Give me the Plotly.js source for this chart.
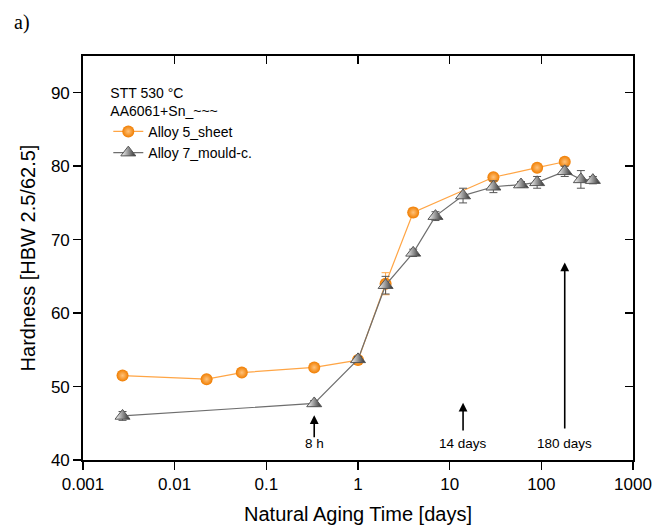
<!DOCTYPE html>
<html>
<head>
<meta charset="utf-8">
<script src="https://cdn.plot.ly/plotly-3.0.1.min.js"></script>
<style>html,body{margin:0;padding:0;background:#fff;}#chart{width:654px;height:530px;}</style>
</head>
<body>
<div id="chart"></div>
<script>
// Alloy 5_sheet (orange spheres)
const sheetDays = [0.0027, 0.0223, 0.054, 0.333, 1, 2, 4, 30, 90, 180];
const sheetHB   = [51.5, 51.0, 51.9, 52.6, 53.6, 64.0, 73.7, 78.5, 79.8, 80.6];
const sheetErr  = [0.3, 0.3, 0.3, 0.3, 0.3, 1.5, 0.6, 0.3, 0.3, 0.3];
// Alloy 7_mould-c. (grey triangles)
const mouldDays = [0.0027, 0.333, 1, 2, 4, 7, 14, 30, 60, 90, 180, 270, 365];
const mouldHB   = [46.0, 47.7, 53.7, 63.8, 68.2, 73.2, 76.0, 77.2, 77.5, 77.8, 79.3, 78.2, 78.1];
const mouldErr  = [0.6, 0.4, 0.4, 1.2, 0.5, 0.6, 1.0, 0.8, 0.4, 0.8, 0.7, 1.2, 0.5];
// axis ticks
const xTickVals = [0.001, 0.01, 0.1, 1, 10, 100, 1000];
const xTickText = ['0.001', '0.01', '0.1', '1', '10', '100', '1000'];
const yTickVals = [40, 50, 60, 70, 80, 90];
// arrow markers: label, day, tip hardness, tail hardness
const arrowLabels = ['8 h', '14 days', '180 days'];
const arrowDays   = [0.333, 14, 180];
const arrowTip    = [46.1, 47.8, 66.9];
const arrowTail   = [42.9, 43.8, 44.1];

const FONT = 'Liberation Sans, Arial, sans-serif';

const traces = [
  {
    x: sheetDays, y: sheetHB, name: 'Alloy 5_sheet', type: 'scatter', mode: 'lines+markers',
    line: {color: '#ffa545', width: 1.2},
    marker: {symbol: 'circle', size: 12, color: '#f07d00', line: {width: 0},
             gradient: {type: 'radial', color: '#ffc27a'}},
    error_y: {type: 'data', array: sheetErr, visible: true, color: '#ffa545', thickness: 1, width: 4}
  },
  {
    x: mouldDays, y: mouldHB, name: 'Alloy 7_mould-c.', type: 'scatter', mode: 'lines+markers',
    line: {color: '#6e6e6e', width: 1.2},
    marker: {symbol: 'triangle-up', size: 13, color: '#ffffff', line: {width: 1, color: '#555'},
             gradient: {type: 'horizontal', color: '#2a2a2a'}},
    error_y: {type: 'data', array: mouldErr, visible: true, color: '#555', thickness: 1, width: 4}
  },
  {x: [], y: [], xaxis: 'x2', yaxis: 'y2', showlegend: false, type: 'scatter', hoverinfo: 'skip'}
];

const annotations = [
  {xref: 'paper', yref: 'paper', x: -0.13, y: 1.084, xanchor: 'left', yanchor: 'middle',
   text: 'a)', showarrow: false, font: {family: 'Liberation Serif, Times New Roman, serif', size: 20, color: '#000'}}
];
for (let i = 0; i < arrowLabels.length; i++) {
  annotations.push({
    x: Math.log10(arrowDays[i]), y: arrowTip[i], ax: Math.log10(arrowDays[i]), ay: arrowTail[i],
    xref: 'x', yref: 'y', axref: 'x', ayref: 'y', text: '', showarrow: true,
    arrowhead: 2, arrowsize: 1.1, arrowwidth: 1.6, arrowcolor: '#000'
  });
  annotations.push({
    x: Math.log10(arrowDays[i]), y: 42.2, xref: 'x', yref: 'y', text: arrowLabels[i],
    showarrow: false, font: {family: FONT, size: 13.5, color: '#000'}, xanchor: 'center', yanchor: 'middle'
  });
}

const layout = {
  width: 654, height: 530,
  margin: {l: 83, r: 21, t: 56, b: 70},
  paper_bgcolor: '#fff', plot_bgcolor: '#fff',
  font: {family: FONT, color: '#000'},
  showlegend: true,
  legend: {
    x: 0.046, y: 0.942, xanchor: 'left', yanchor: 'top',
    bgcolor: 'rgba(0,0,0,0)', borderwidth: 0,
    font: {family: FONT, size: 14, color: '#000'},
    title: {text: 'STT 530 °C<br>AA6061+Sn_~~~', font: {family: FONT, size: 14, color: '#000'}},
    tracegroupgap: 0, itemwidth: 30
  },
  xaxis: {
    type: 'log', range: [-3, 3], tickvals: xTickVals, ticktext: xTickText,
    ticks: 'outside', ticklen: 8, tickwidth: 1.5, tickcolor: '#000',
    showline: true, linecolor: '#000', linewidth: 1.8, showgrid: false, zeroline: false,
    tickfont: {family: FONT, size: 17, color: '#000'},
    title: {text: 'Natural Aging Time [days]', font: {family: FONT, size: 20, color: '#000'}, standoff: 14}
  },
  yaxis: {
    range: [40, 95], tickvals: yTickVals,
    ticks: 'outside', ticklen: 8, tickwidth: 1.5, tickcolor: '#000',
    showline: true, linecolor: '#000', linewidth: 1.8, showgrid: false, zeroline: false,
    tickfont: {family: FONT, size: 17, color: '#000'},
    title: {text: 'Hardness [HBW 2.5/62.5]', font: {family: FONT, size: 20, color: '#000'}, standoff: 10}
  },
  xaxis2: {
    type: 'log', range: [-3, 3], overlaying: 'x', side: 'top', tickvals: xTickVals,
    ticks: 'inside', ticklen: 8, tickwidth: 1.5, tickcolor: '#000', showticklabels: false,
    showline: true, linecolor: '#000', linewidth: 1.8, showgrid: false, zeroline: false
  },
  yaxis2: {
    range: [40, 95], overlaying: 'y', side: 'right', tickvals: yTickVals,
    ticks: 'inside', ticklen: 8, tickwidth: 1.5, tickcolor: '#000', showticklabels: false,
    showline: true, linecolor: '#000', linewidth: 1.8, showgrid: false, zeroline: false
  },
  annotations: annotations
};

Plotly.newPlot('chart', traces, layout, {displayModeBar: false, staticPlot: true});
</script>
</body>
</html>
